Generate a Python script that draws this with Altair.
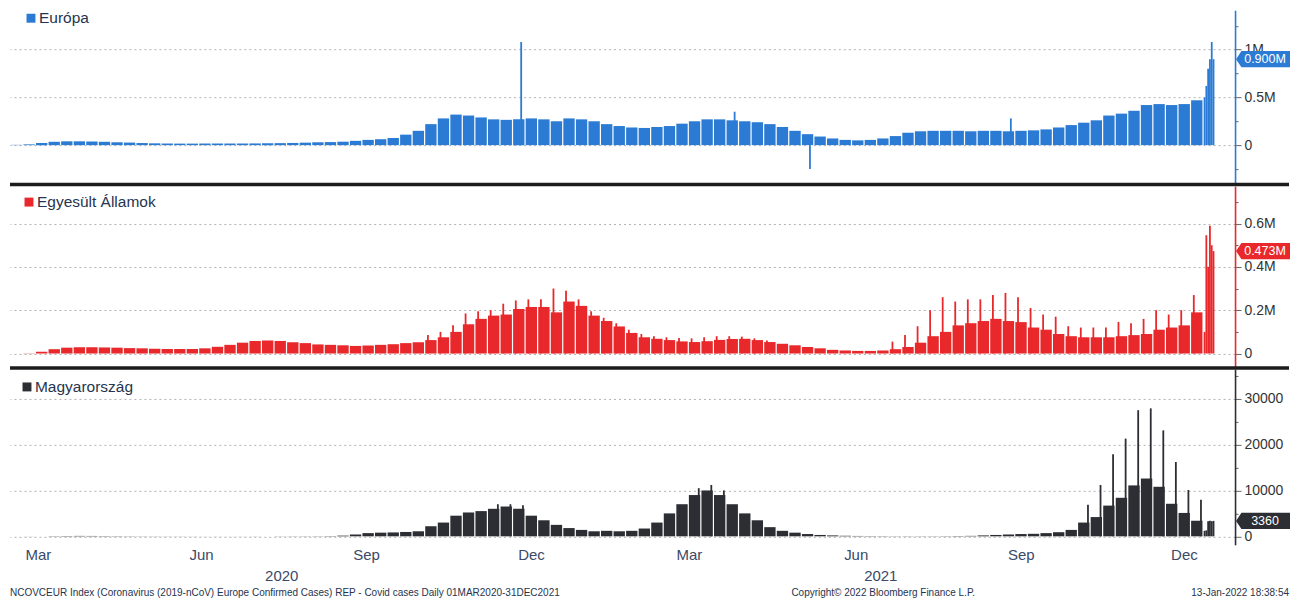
import altair as alt
import pandas as pd

# ---------------- data ----------------
WEEK_START = "2020-03-01"      # weekly blocks start on this Sunday
DAILY_START = "2021-12-26"     # last days given day by day
N_WEEKS = 95

# Europe, new confirmed cases, thousands (typical daily level per week)
EU_WEEKLY_K = [3, 8, 22, 35, 40, 40, 38, 35, 30, 27,
               22, 19, 17, 16, 16, 17, 17, 17, 17, 18,
               19, 21, 23, 26, 30, 32, 36, 45, 55, 62,
               75, 110, 150, 220, 280, 320, 310, 290, 270, 265,
               270, 280, 270, 250, 280, 270, 250, 220, 200, 185,
               180, 190, 200, 225, 250, 270, 270, 260, 250, 240,
               220, 190, 150, 115, 90, 70, 55, 50, 55, 70,
               95, 130, 145, 150, 150, 150, 145, 150, 150, 145,
               150, 155, 165, 185, 210, 235, 260, 310, 330, 360,
               420, 430, 420, 430, 470]
EU_SPIKE_K = ([0] * 40 + [1080] + [0] * 16 + [350] + [0] * 5 + [-250]
              + [0] * 15 + [280] + [0] * 15)
EU_DAILY_K = [500, 620, 800, 900, 1080, 900]

# United States, thousands
US_WEEKLY_K = [0, 1, 8, 20, 27, 29, 29, 28, 27, 25,
               24, 22, 21, 21, 21, 24, 31, 40, 50, 58,
               60, 58, 52, 48, 42, 40, 38, 35, 37, 40,
               43, 48, 52, 62, 75, 100, 135, 160, 175, 180,
               205, 215, 215, 190, 240, 220, 175, 150, 125, 95,
               75, 68, 62, 56, 53, 57, 63, 67, 68, 62,
               53, 45, 38, 30, 24, 17, 14, 12, 12, 14,
               20, 30, 50, 80, 100, 130, 140, 150, 160, 150,
               145, 120, 110, 90, 80, 75, 75, 75, 80, 85,
               90, 110, 120, 130, 190]
US_SPIKE_K = ([0] * 33 + [85, 100, 130, 185, 195, 200, 230,
                          245, 250, 250, 300, 290, 250, 195, 165, 140, 110,
                          90, 80, 75, 72, 70, 75, 80, 80, 78, 70, 60]
              + [0] * 9
              + [55, 85, 126, 200, 260, 240, 250, 250, 270, 280,
                 260, 210, 180, 170, 126, 120, 120, 120, 146, 140,
                 160, 200, 180, 200, 270])
US_DAILY_K = [100, 546, 400, 590, 500, 473]

# Hungary, cases
HU_WEEKLY = [1, 10, 30, 50, 70, 90, 80, 60, 50, 40,
             30, 25, 20, 20, 15, 10, 10, 10, 10, 15,
             20, 25, 30, 35, 40, 60, 150, 400, 700, 800,
             850, 950, 1100, 2200, 3000, 4500, 5200, 5500, 6000, 6500,
             6000, 4500, 3500, 2500, 1800, 1400, 1100, 1200, 1100, 1200,
             1700, 3000, 5000, 7000, 9000, 10000, 9000, 7000, 5000, 3500,
             2000, 1200, 800, 500, 300, 200, 120, 80, 60, 50,
             40, 40, 40, 40, 50, 70, 100, 200, 300, 400,
             500, 550, 700, 900, 1400, 3000, 4200, 6700, 8400, 11100,
             12600, 10800, 7100, 5100, 3400]
HU_SPIKE = ([0] * 38 + [7000, 7000, 6800] + [0] * 13 + [10500, 11200, 10000]
            + [0] * 28
            + [6900, 11200, 17900, 21300, 27500, 27900, 23100, 16200, 10100, 8000])
HU_DAILY = [1200, 1300, 3300, 3400, 3300, 3360]

SERIES_NAMES = ["Európa", "Egyesült Államok", "Magyarország"]

EU_TICKS = [0, 500000, 1000000]
EU_TICK_LABELS = ["0", "0.5M", "1M"]
EU_MINOR = [-250000, 250000, 750000, 1250000]
US_TICKS = [0, 200000, 400000, 600000]
US_TICK_LABELS = ["0", "0.2M", "0.4M", "0.6M"]
US_MINOR = [100000, 300000, 500000, 700000]
HU_TICKS = [0, 10000, 20000, 30000]
HU_TICK_LABELS = ["0", "10000", "20000", "30000"]
HU_MINOR = [5000, 15000, 25000, 35000]

MONTH_TICKS = [(2020, 3, 16), (2020, 6, 15), (2020, 9, 15), (2020, 12, 16),
               (2021, 3, 14), (2021, 6, 15), (2021, 9, 15), (2021, 12, 15)]
YEAR_LABELS = ["2020", "2021"]
YEAR_DATES = ["2020-07-30", "2021-06-29"]

FOOTER_LEFT = ("NCOVCEUR Index (Coronavirus (2019-nCoV) Europe Confirmed Cases) "
               "REP - Covid cases  Daily 01MAR2020-31DEC2021")
FOOTER_MID = "Copyright\u00a9 2022 Bloomberg Finance L.P."
FOOTER_RIGHT = "13-Jan-2022 18:38:54"

# ---------------- styling ----------------
W = 1226
FONT = "Liberation Sans"
TEXT_COL = "#26344f"
BLUE = "#2b7bd4"
RED = "#e8282b"
DARK = "#2c2e33"
TAG_PATH = "M-1,0L-0.8,-0.3L1,-0.3L1,0.3L-0.8,0.3Z"

weeks = pd.date_range(WEEK_START, periods=N_WEEKS, freq="7D")
days = pd.date_range(DAILY_START, periods=len(EU_DAILY_K), freq="D")

x_scale = alt.Scale(domain=[alt.DateTime(year=2020, month=2, date=29, hours=12),
                            alt.DateTime(year=2022, month=1, date=12, hours=12)])


def label_expr(ticks, labels):
    expr = "''"
    for t, l in zip(reversed(ticks), reversed(labels)):
        expr = f"datum.value === {t} ? '{l}' : ({expr})"
    return expr


def make_panel(name, color, weekly, spikes, spike_offset, daily, mult,
               domain, ticks, tick_labels, minor, height, legend_pos,
               tag_text, bottom=False, separator_y=None):
    ys = alt.Scale(domain=domain, nice=False, zero=False)
    major_test = "indexof([" + ",".join(str(t) for t in ticks) + "], datum.value) >= 0"
    yaxis = alt.Axis(
        orient="right", values=sorted(ticks + minor), tickCount=100,
        labelExpr=label_expr(ticks, tick_labels), title=None,
        grid=True, gridColor="#a9a9a9", gridDash=[2, 3], gridWidth=1,
        gridOpacity={"condition": {"test": major_test, "value": 0.9}, "value": 0},
        domainColor=color, domainWidth=1.6,
        tickColor="#666666", tickWidth=1,
        tickSize={"condition": {"test": major_test, "value": 6}, "value": 3},
        labelColor="#333333", labelFontSize=14, labelPadding=3, labelFont=FONT,
        labelOverlap=False,
    )
    if bottom:
        xaxis = alt.Axis(
            values=[alt.DateTime(year=y, month=m, date=d) for (y, m, d) in MONTH_TICKS],
            tickCount=100,
            format="%b", title=None, domain=False, ticks=False, grid=False,
            labelFontSize=15, labelColor="#3b4a68", labelPadding=3, labelFont=FONT,
            labelFlush=False,
        )
    else:
        xaxis = None

    wk = pd.DataFrame({"start": weeks, "end": weeks + pd.Timedelta(days=7),
                       "value": [v * mult for v in weekly]})
    sp = pd.DataFrame({"date": weeks + pd.Timedelta(days=spike_offset, hours=12),
                       "value": [v * mult for v in spikes]})
    sp = sp[sp["value"] != 0]
    dl = pd.DataFrame({"start": days, "end": days + pd.Timedelta(days=1),
                       "value": [v * mult for v in daily]})
    tag = pd.DataFrame({"value": [daily[-1] * mult], "label": [tag_text]})
    leg = pd.DataFrame({"name": [name]})

    bars = alt.Chart(wk).mark_bar(color=color, x2Offset=-1.2).encode(
        x=alt.X("start:T", scale=x_scale, axis=xaxis),
        x2="end:T",
        y=alt.Y("value:Q", scale=ys, axis=yaxis),
        y2=alt.datum(0),
    )
    spike_marks = alt.Chart(sp).mark_rule(color=color, strokeWidth=1.8).encode(
        x=alt.X("date:T", scale=x_scale),
        y=alt.Y("value:Q", scale=ys),
        y2=alt.datum(0),
    )
    daily_bars = alt.Chart(dl).mark_bar(color=color).encode(
        x=alt.X("start:T", scale=x_scale),
        x2="end:T",
        y=alt.Y("value:Q", scale=ys),
        y2=alt.datum(0),
    )
    tag_shape = alt.Chart(tag).mark_point(
        shape=TAG_PATH, filled=True, size=54 ** 2, color=color, opacity=1, strokeWidth=0
    ).encode(x=alt.value(1254), y=alt.Y("value:Q", scale=ys))
    tag_label = alt.Chart(tag).mark_text(
        color="white", fontSize=12.5, font=FONT, align="center", baseline="middle", dx=2
    ).encode(x=alt.value(1254), y=alt.Y("value:Q", scale=ys), text="label:N")
    leg_sq = alt.Chart(leg).mark_square(color=color, size=80, opacity=1).encode(
        x=alt.value(legend_pos[0]), y=alt.value(legend_pos[1]))
    leg_tx = alt.Chart(leg).mark_text(
        color=TEXT_COL, fontSize=15.5, font=FONT, align="left", baseline="middle"
    ).encode(x=alt.value(legend_pos[0] + 8), y=alt.value(legend_pos[1]), text="name:N")

    layers = [bars, daily_bars, spike_marks, tag_shape, tag_label, leg_sq, leg_tx]
    if separator_y is not None:
        sep = alt.Chart(leg).mark_rule(color="#1c1c1c", strokeWidth=3.5).encode(
            x=alt.value(0), x2=alt.value(1280), y=alt.value(separator_y))
        layers.append(sep)
    if bottom:
        yr = pd.DataFrame({"date": pd.to_datetime(YEAR_DATES), "label": YEAR_LABELS})
        years = alt.Chart(yr).mark_text(
            color="#3b4a68", fontSize=15, font=FONT, align="center", baseline="middle"
        ).encode(x=alt.X("date:T", scale=x_scale), y=alt.value(207), text="label:N")
        ft = pd.DataFrame({"t": [FOOTER_LEFT], "m": [FOOTER_MID], "r": [FOOTER_RIGHT]})
        f1 = alt.Chart(ft).mark_text(color=TEXT_COL, fontSize=10, font=FONT, align="left",
                                     baseline="middle").encode(
            x=alt.value(0), y=alt.value(224), text="t:N")
        f2 = alt.Chart(ft).mark_text(color=TEXT_COL, fontSize=10, font=FONT, align="left",
                                     baseline="middle").encode(
            x=alt.value(782), y=alt.value(224), text="m:N")
        f3 = alt.Chart(ft).mark_text(color=TEXT_COL, fontSize=10, font=FONT, align="right",
                                     baseline="middle").encode(
            x=alt.value(1280), y=alt.value(224), text="r:N")
        layers += [years, f1, f2, f3]
    return alt.layer(*layers).properties(width=W, height=height)


p1 = make_panel(SERIES_NAMES[0], BLUE, EU_WEEKLY_K, EU_SPIKE_K, 4, EU_DAILY_K, 1000,
                [-408000, 1413000], EU_TICKS, EU_TICK_LABELS, EU_MINOR, 174, (21, 8),
                f"{EU_DAILY_K[-1] / 1000:.3f}M", separator_y=174.5)
p2 = make_panel(SERIES_NAMES[1], RED, US_WEEKLY_K, US_SPIKE_K, 1, US_DAILY_K, 1000,
                [-62000, 773000], US_TICKS, US_TICK_LABELS, US_MINOR, 181, (19, 16),
                f"{US_DAILY_K[-1] / 1000:.3f}M", separator_y=182)
p3 = make_panel(SERIES_NAMES[2], DARK, HU_WEEKLY, HU_SPIKE, 5, HU_DAILY, 1,
                [-1850, 36490], HU_TICKS, HU_TICK_LABELS, HU_MINOR, 176, (17, 18),
                f"{HU_DAILY[-1]}", bottom=True)

chart = alt.vconcat(p1, p2, p3, spacing=2, bounds="flush").properties(
    padding={"left": 0, "top": 2, "right": 0, "bottom": 0}
).configure_view(stroke=None)

chart.save("out.html", embed_options={"renderer": "svg", "actions": False})
